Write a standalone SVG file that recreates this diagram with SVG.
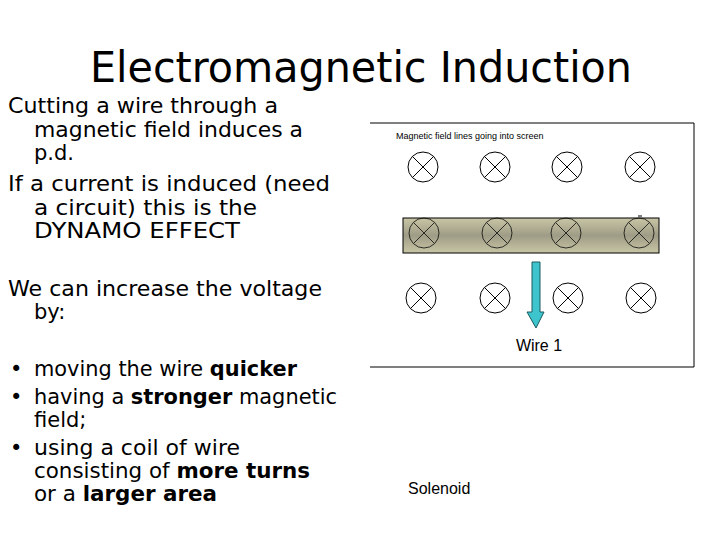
<svg xmlns="http://www.w3.org/2000/svg" width="720" height="540" viewBox="0 0 720 540">
<defs>
<style>
.c{font-family:"DejaVu Sans","Liberation Sans",sans-serif;font-size:21px;fill:#000}
.b{font-weight:bold}
.a{font-family:"Liberation Sans",Arial,sans-serif;fill:#000}
.x{fill:none;stroke:#000;stroke-width:1}
</style>
<linearGradient id="g" x1="0" y1="0" x2="0" y2="1">
<stop offset="0" stop-color="#c9c6a6"/><stop offset="0.5" stop-color="#9e9c86"/><stop offset="1" stop-color="#c9c6a6"/>
</linearGradient>
<g id="xc"><circle r="15" fill="none" stroke="#000"/><path d="M-10.6-10.6L10.6 10.6M10.6-10.6L-10.6 10.6" stroke="#000"/></g>
</defs>
<rect width="720" height="540" fill="#fff"/>
<text x="361" y="82" text-anchor="middle" font-family="DejaVu Sans, sans-serif" font-size="42" textLength="542" lengthAdjust="spacingAndGlyphs">Electromagnetic Induction</text>
<g id="text-left">
<text class="c" x="8" y="113" textLength="270" lengthAdjust="spacingAndGlyphs">Cutting a wire through a</text>
<text class="c" x="34" y="137" textLength="269" lengthAdjust="spacingAndGlyphs">magnetic field induces a</text>
<text class="c" x="34" y="160">p.d.</text>
<text class="c" x="8" y="191" textLength="322" lengthAdjust="spacingAndGlyphs">If a current is induced (need</text>
<text class="c" x="34" y="215" textLength="223" lengthAdjust="spacingAndGlyphs">a circuit) this is the</text>
<text class="c" x="34" y="238" textLength="206" lengthAdjust="spacingAndGlyphs">DYNAMO EFFECT</text>
<text class="c" x="8" y="296" textLength="314" lengthAdjust="spacingAndGlyphs">We can increase the voltage</text>
<text class="c" x="34" y="319">by:</text>
<text class="c" x="10" y="376">•</text>
<text class="c" x="34" y="376" textLength="263" lengthAdjust="spacingAndGlyphs">moving the wire <tspan class="b">quicker</tspan></text>
<text class="c" x="10" y="404">•</text>
<text class="c" x="34" y="404" textLength="303" lengthAdjust="spacingAndGlyphs">having a <tspan class="b">stronger</tspan> magnetic</text>
<text class="c" x="34" y="427">field;</text>
<text class="c" x="10" y="455">•</text>
<text class="c" x="34" y="455" textLength="206" lengthAdjust="spacingAndGlyphs">using a coil of wire</text>
<text class="c" x="34" y="478" textLength="276" lengthAdjust="spacingAndGlyphs">consisting of <tspan class="b">more turns</tspan></text>
<text class="c" x="34" y="501" textLength="183" lengthAdjust="spacingAndGlyphs">or a <tspan class="b">larger area</tspan></text>
</g>
<g id="frame">
<path d="M370 123H694V367H370" class="x"/>
<text class="a" x="396" y="139" font-size="9">Magnetic field lines going into screen</text>
</g>
<g id="field-row1">
<use href="#xc" x="423" y="167"/><use href="#xc" x="495" y="167"/><use href="#xc" x="567" y="167"/><use href="#xc" x="640" y="167"/>
</g>
<g id="wire">
<rect x="403" y="218" width="256" height="35" fill="url(#g)" stroke="#000"/>
<line x1="638" y1="216" x2="642" y2="216" stroke="#000"/>
<g opacity="0.75"><use href="#xc" x="424" y="233"/><use href="#xc" x="497" y="233"/><use href="#xc" x="566" y="233"/><use href="#xc" x="639" y="233"/></g>
</g>
<g id="field-row3">
<use href="#xc" x="421" y="298"/><use href="#xc" x="495" y="298"/><use href="#xc" x="568" y="298"/><use href="#xc" x="641" y="298"/>
</g>
<g id="connectors">
<path d="M532 262H540V312H544L536 328L527 312H532Z" fill="#3ec4cc" stroke="#1a5a60"/>
</g>
<text class="a" x="539" y="351" font-size="16" text-anchor="middle">Wire 1</text>
<text class="a" x="408" y="494" font-size="16">Solenoid</text>
</svg>
